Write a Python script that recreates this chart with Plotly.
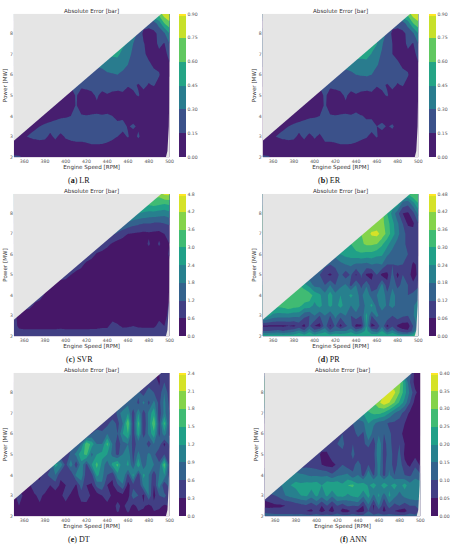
import plotly.graph_objects as go

# Engine speed columns [RPM] and power rows [MW]
rpm = [350,355,360,365,370,375,380,385,390,395,400,405,410,415,420,425,430,435,440,445,450,455,460,465,470,475,480,485,490,495,500]
power = [9,8.5,8,7.5,7,6.5,6,5.5,5,4.5,4,3.5,3,2.5,2.25,2]

# Rows run from top (9 MW) to bottom (2 MW); each row lists its right-hand columns, ending at 500 RPM
z_lr = [
[.68,.86,.88],
[.20,.22,.38,.60,.72],
[.40,.25,.12,.10,.12,.18,.28,.45],
[.50,.42,.30,.20,.16,.10,.10,.18,.14,.30],
[.48,.50,.38,.33,.28,.20,.17,.12,.10,.12,.10,.20],
[.32,.36,.36,.35,.33,.30,.27,.22,.18,.17,.13,.12,.08,.14],
[.18,.22,.25,.27,.28,.29,.30,.28,.25,.23,.22,.20,.19,.18,.16,.07,.10],
[.16,.17,.19,.20,.20,.21,.21,.22,.20,.19,.16,.17,.14,.18,.14,.16,.10,.06,.07],
[.10,.11,.16,.11,.10,.12,.17,.11,.14,.11,.11,.13,.10,.13,.16,.11,.09,.07,.06,.05,.05],
[.05,.06,.07,.08,.09,.16,.09,.08,.09,.13,.07,.13,.07,.08,.07,.07,.11,.07,.06,.06,.05,.05,.05,.05],
[.05,.06,.08,.10,.12,.13,.15,.155,.16,.155,.16,.155,.16,.155,.15,.14,.13,.10,.09,.08,.07,.06,.05,.05,.04,.04],
[.11,.13,.15,.18,.20,.22,.24,.24,.23,.24,.24,.25,.25,.24,.24,.22,.20,.16,.18,.14,.17,.13,.14,.10,.08,.07,.05,.04],
[.10,.12,.14,.16,.18,.19,.18,.12,.18,.11,.17,.19,.20,.20,.21,.21,.21,.20,.19,.17,.15,.12,.16,.10,.17,.09,.07,.06,.05,.04,.03],
[.08,.07,.07,.07,.07,.08,.08,.07,.08,.07,.08,.09,.10,.10,.11,.13,.13,.13,.12,.11,.09,.08,.07,.06,.05,.04,.04,.03,.03,.03,.03],
[.10,.09,.07,.06,.05,.05,.05,.05,.05,.05,.05,.05,.05,.05,.05,.05,.05,.05,.05,.05,.05,.04,.04,.04,.04,.04,.04,.03,.03,.03,.03],
[.18,.17,.13,.10,.08,.07,.07,.06,.06,.06,.06,.05,.05,.05,.05,.05,.05,.05,.05,.05,.05,.05,.05,.05,.05,.05,.05,.05,.05,.06,.08],
]
z_er = [
[.68,.86,.88],
[.20,.22,.38,.60,.72],
[.40,.25,.12,.10,.12,.18,.28,.45],
[.53,.46,.32,.20,.15,.09,.10,.18,.14,.30],
[.50,.53,.44,.36,.28,.19,.15,.12,.10,.12,.10,.20],
[.34,.40,.39,.38,.35,.31,.27,.21,.17,.17,.13,.12,.08,.14],
[.18,.22,.26,.28,.30,.31,.32,.30,.26,.23,.22,.20,.19,.18,.16,.07,.10],
[.16,.17,.19,.20,.20,.21,.21,.22,.20,.19,.16,.17,.14,.18,.14,.16,.10,.06,.07],
[.10,.11,.17,.11,.10,.12,.17,.11,.14,.11,.11,.13,.10,.13,.16,.11,.09,.07,.06,.05,.05],
[.05,.06,.07,.08,.09,.17,.09,.08,.09,.13,.07,.13,.07,.08,.07,.07,.11,.07,.06,.06,.05,.05,.05,.05],
[.05,.06,.08,.10,.12,.13,.15,.155,.16,.155,.16,.155,.16,.16,.155,.14,.13,.11,.09,.08,.07,.06,.05,.05,.04,.04],
[.11,.13,.15,.18,.20,.22,.24,.24,.23,.24,.24,.25,.25,.24,.24,.23,.21,.17,.19,.15,.18,.14,.17,.10,.08,.07,.05,.04],
[.10,.12,.14,.16,.18,.19,.18,.12,.18,.11,.17,.12,.20,.20,.21,.21,.21,.20,.19,.17,.16,.12,.16,.10,.14,.09,.07,.06,.05,.04,.03],
[.08,.07,.07,.07,.07,.08,.08,.07,.08,.07,.08,.09,.10,.10,.11,.13,.13,.13,.12,.11,.09,.08,.07,.06,.05,.04,.04,.03,.03,.03,.03],
[.10,.09,.07,.06,.05,.05,.05,.05,.05,.05,.05,.05,.05,.05,.05,.05,.05,.05,.05,.05,.05,.04,.04,.04,.04,.04,.04,.03,.03,.03,.03],
[.18,.17,.13,.10,.08,.07,.07,.06,.06,.06,.06,.05,.05,.05,.05,.05,.05,.05,.05,.05,.05,.05,.05,.05,.05,.05,.05,.05,.05,.06,.08],
]
z_svr = [
[3.9,4.5,4.5],
[3.2,3.3,3.2,3.1,3.2],
[2.6,2.4,2.3,2.2,2.2,2.1,2.0,2.2],
[1.8,1.6,1.4,1.3,1.2,1.2,1.1,1.1,1.2,1.3],
[1.3,1.1,.8,.6,.55,.50,.45,.50,.45,.40,.60,.70],
[1.2,.8,.5,.3,.3,.3,.3,.3,.3,.7,.3,.7,.3,.6],
[1.1,.9,.5,.3,.2,.2,.2,.2,.2,.2,.2,.2,.2,.2,.2,.3,.7],
[1.1,.8,.4,.2,.2,.2,.2,.2,.2,.2,.2,.2,.2,.2,.2,.2,.2,.2,.5],
[.9,.6,.3,.2,.2,.2,.2,.2,.2,.2,.2,.2,.2,.2,.2,.2,.2,.2,.2,.2,.4],
[.8,.4,.3,.2,.2,.2,.2,.2,.2,.2,.2,.2,.2,.2,.2,.2,.2,.2,.2,.2,.2,.2,.2,.4],
[.9,.5,.3,.2,.2,.2,.2,.2,.2,.2,.2,.2,.2,.2,.2,.2,.2,.2,.2,.2,.2,.2,.2,.2,.3,.5],
[.8,.5,.3,.2,.2,.2,.2,.2,.2,.2,.2,.2,.2,.2,.2,.2,.2,.2,.2,.2,.2,.2,.2,.2,.2,.2,.3,.7],
[.7,.5,.3,.2,.2,.2,.2,.2,.2,.2,.2,.2,.2,.2,.2,.2,.2,.2,.2,.2,.2,.2,.2,.2,.2,.2,.2,.2,.45,.4,.8],
[.8,.5,.4,.4,.4,.4,.4,.4,.4,.4,.4,.4,.4,.4,.4,.45,.45,.45,.45,.9,.7,.5,.5,.6,.5,.5,.5,.5,.75,.6,.9],
[.9,.7,.7,.7,.7,.7,.7,.7,.7,.75,.7,.7,.7,.7,.7,.7,.7,.8,.8,.9,.9,.8,.9,.9,.85,.8,.8,.8,.9,.9,1.0],
[.9,.9,.8,.8,.9,.9,.9,.9,.9,.9,.9,.9,.9,.9,.9,.9,.9,.9,.9,.9,.9,.9,.9,.9,.9,.9,.9,.9,1.0,1.0,1.1],
]
z_pr = [
[.32,.38,.36],
[.28,.16,.14,.22,.30],
[.38,.30,.22,.14,.06,.05,.10,.20],
[.38,.38,.38,.33,.26,.19,.12,.05,.05,.12],
[.36,.39,.43,.44,.40,.34,.27,.20,.14,.10,.08,.10],
[.30,.34,.35,.37,.37,.36,.31,.26,.20,.16,.13,.11,.09,.09],
[.20,.24,.26,.27,.28,.29,.28,.28,.26,.25,.19,.16,.15,.14,.12,.09,.07],
[.14,.12,.14,.16,.18,.19,.17,.17,.16,.18,.17,.18,.12,.12,.13,.12,.10,.05,.07],
[.14,.12,.07,.05,.08,.14,.08,.13,.05,.13,.05,.04,.12,.04,.04,.14,.04,.12,.08,.04,.07],
[.30,.26,.22,.16,.16,.12,.18,.12,.16,.19,.10,.18,.10,.17,.08,.08,.20,.08,.17,.10,.14,.12,.07,.11],
[.31,.34,.36,.36,.33,.28,.25,.20,.27,.20,.24,.20,.26,.20,.16,.24,.14,.18,.24,.14,.20,.16,.17,.12,.14,.15],
[.32,.33,.35,.33,.32,.28,.28,.22,.27,.20,.26,.21,.27,.20,.18,.22,.16,.19,.26,.15,.22,.17,.20,.16,.16,.18,.17,.22],
[.30,.26,.22,.21,.21,.21,.20,.20,.14,.12,.18,.12,.18,.12,.20,.14,.18,.12,.16,.12,.26,.12,.20,.14,.18,.12,.16,.13,.12,.17,.25],
[.05,.05,.05,.05,.05,.06,.05,.08,.04,.13,.06,.04,.15,.05,.13,.04,.11,.14,.04,.05,.24,.04,.07,.17,.04,.11,.05,.03,.03,.12,.20],
[.12,.12,.13,.14,.12,.14,.16,.20,.14,.22,.14,.18,.22,.14,.18,.18,.18,.22,.16,.20,.26,.18,.14,.24,.14,.20,.12,.08,.07,.14,.30],
[.28,.28,.28,.28,.28,.28,.28,.30,.28,.30,.28,.30,.30,.28,.30,.28,.30,.30,.28,.30,.30,.28,.30,.30,.28,.30,.28,.26,.26,.30,.32],
]
z_dt = [
[.3,.4,.5],
[.3,.6,.25,.6,.4],
[.4,.7,.4,.9,.6,.4,.9,.4],
[.4,.8,.9,.5,1.0,.5,1.0,.5,1.0,.5],
[.3,.7,1.1,1.2,.4,1.2,.4,1.0,1.4,.4,1.0,.6],
[.3,.5,.8,.5,.9,1.8,.4,1.6,.3,1.0,1.8,.5,1.6,.5],
[.3,.6,.8,.7,.9,.8,.6,1.2,1.5,.4,1.4,.4,1.0,1.4,.5,1.1,.5],
[.5,.9,1.75,1.4,.9,.9,1.6,.9,.4,.8,.9,.5,.7,.9,.4,.9,.8,.2,.7],
[.3,.7,1.0,1.4,1.6,.8,1.2,1.3,1.2,.8,.5,.9,1.1,.5,1.0,.6,1.0,.7,.3,.6,.5],
[.5,1.3,1.1,.5,1.1,.4,1.1,.5,1.2,1.6,1.1,.7,1.3,1.6,.9,1.3,.6,1.5,.6,1.2,.9,.7,1.7,.5],
[.25,.5,.7,.9,.35,.5,.3,1.0,1.1,.4,.5,1.3,1.0,.6,.35,1.1,1.2,.5,1.3,.4,1.3,.9,.4,.9,1.2,.4],
[.25,.55,.35,.6,.3,.45,.25,.3,.6,.25,.75,.3,.25,.7,.85,.3,.25,.55,.85,.2,.5,.3,1.0,.9,.3,1.1,.3,.8],
[.25,.4,.25,.3,.25,.4,.2,.3,.15,.2,.5,.2,.15,.45,.55,.2,.15,.3,.55,.2,.15,.2,.15,.8,.6,.2,.9,.2,.6,.7,.4],
[.2,.3,.2,.25,.2,.25,.2,.2,.15,.2,.15,.2,.15,.2,.15,.2,.15,.2,.15,.15,.4,.2,.5,.2,.4,.35,.2,.4,.4,.25,.3],
[.2,.2,.15,.2,.15,.15,.15,.15,.15,.15,.15,.15,.15,.15,.15,.15,.15,.1,.1,.1,.35,.15,.35,.15,.3,.25,.15,.3,.25,.2,.2],
[.15,.15,.15,.15,.15,.15,.15,.15,.15,.15,.15,.15,.15,.15,.15,.15,.15,.1,.1,.1,.15,.15,.2,.15,.2,.15,.15,.2,.2,.2,.2],
]
z_ann = [
[.12,.03,.03],
[.32,.22,.10,.03,.03],
[.34,.38,.36,.30,.22,.14,.06,.03],
[.30,.34,.38,.35,.30,.24,.18,.10,.03,.03],
[.20,.24,.26,.26,.24,.20,.15,.12,.08,.04,.03,.03],
[.10,.12,.14,.20,.16,.13,.12,.09,.09,.08,.05,.02,.02,.02],
[.08,.10,.10,.07,.12,.09,.20,.12,.14,.10,.11,.08,.06,.04,.02,.02,.02],
[.08,.09,.10,.11,.08,.10,.06,.09,.12,.06,.20,.08,.13,.06,.10,.05,.03,.03,.03],
[.07,.04,.04,.09,.08,.09,.05,.12,.06,.10,.06,.08,.20,.07,.13,.08,.11,.04,.03,.03,.03],
[.07,.08,.08,.07,.05,.03,.03,.06,.10,.07,.08,.13,.07,.10,.07,.18,.08,.14,.07,.13,.06,.04,.09,.04],
[.16,.18,.16,.15,.14,.14,.14,.14,.11,.14,.15,.16,.11,.15,.08,.19,.09,.17,.08,.16,.10,.13,.10,.09,.13,.11],
[.14,.18,.20,.21,.21,.22,.22,.23,.20,.24,.24,.24,.21,.25,.26,.21,.24,.19,.23,.17,.24,.19,.22,.18,.22,.17,.19,.18],
[.07,.09,.10,.12,.15,.17,.18,.20,.21,.17,.21,.17,.21,.16,.21,.22,.19,.21,.22,.16,.22,.14,.21,.12,.21,.17,.13,.17,.18,.19,.17],
[.03,.03,.04,.04,.05,.05,.07,.08,.09,.07,.10,.05,.10,.05,.10,.07,.11,.10,.11,.05,.14,.04,.15,.05,.13,.08,.10,.07,.10,.10,.12],
[.09,.08,.07,.07,.07,.07,.06,.07,.05,.04,.07,.03,.06,.03,.08,.03,.03,.07,.03,.04,.10,.05,.08,.04,.07,.05,.03,.03,.08,.05,.10],
[.12,.12,.12,.12,.12,.12,.12,.12,.12,.12,.12,.12,.12,.12,.12,.12,.12,.12,.12,.12,.12,.12,.12,.12,.12,.12,.12,.12,.12,.12,.14],
]

# Region of the map that has no operating data
mask_rpm = [350, 350, 497.8, 350]
mask_mw = [2.8, 9.2, 9.2, 2.8]
corner_rpm = [501, 496.5, 498, 499.3, 500, 501]
corner_mw = [2, 2, 2.3, 3.5, 5.9, 5.9]

panel_names = ["LR", "ER", "SVR", "PR", "DT", "ANN"]
panel_letters = ["a", "b", "c", "d", "e", "f"]
panel_data = [z_lr, z_er, z_svr, z_pr, z_dt, z_ann]
level_steps = [.15, .15, .6, .06, .3, .05]
level_tops = [.9, .9, 4.8, .48, 2.4, .4]
tick_formats = [".2f", ".2f", ".1f", ".2f", ".1f", ".2f"]

W, H = 461, 550
# plot boxes: left, right, top, bottom; colourbar left; caption centre x, y (all in pixels)
boxes = [(14,171,14,158,181,80,181),(265,422,14,158,433,332,181),
         (14,171,195,338,181,80,361),(265,422,195,338,433,332,361),
         (14,171,375,519,181,80,542),(267,424,375,519,435,357,542)]

BG = "#e5e5e5"
INK = "#333333"
SANS = "DejaVu Sans"
fig = go.Figure()
annotations = []
layout = {}
for i, (name, letter, rows, step, top, fmt, box) in enumerate(zip(panel_names, panel_letters, panel_data, level_steps, level_tops, tick_formats, boxes)):
    l, r, t, b, cb, cx, cy = box
    n = "" if i == 0 else str(i + 1)
    # cells left of each row's first value lie under the mask: carry that value across them
    z = [[row[0]] * (len(rpm) - len(row)) + row for row in rows]
    fig.add_trace(go.Contour(
        x=rpm, y=power, z=z, xaxis="x" + n, yaxis="y" + n,
        zmin=0, zmax=top, colorscale="Viridis", autocontour=False,
        contours=dict(start=0, end=top, size=step, coloring="fill", showlines=False),
        line=dict(width=0, smoothing=0), hoverinfo="skip",
        colorbar=dict(x=cb / W, xanchor="left", y=1 - (t + b) / 2 / H, yanchor="middle",
                      len=(b - t) / H, lenmode="fraction", thickness=7, thicknessmode="pixels",
                      xpad=0, ypad=0, outlinewidth=0, ticks="", ticklen=0, tick0=0, dtick=step,
                      tickformat=fmt, tickfont=dict(size=4.6, color="#555555", family=SANS)),
    ))
    for px, py in ((mask_rpm, mask_mw), (corner_rpm, corner_mw)):
        fig.add_trace(go.Scatter(x=px, y=py, xaxis="x" + n, yaxis="y" + n, mode="lines",
                                 fill="toself", fillcolor=BG, line=dict(width=0, color=BG),
                                 hoverinfo="skip", showlegend=False))
    layout["xaxis" + n] = dict(domain=[l / W, r / W], range=[350, 500], anchor="y" + n, tick0=360, dtick=20,
                               showgrid=False, zeroline=False, showline=False, ticks="",
                               tickfont=dict(size=4.6, color="#555555", family=SANS), ticklabelstandoff=0,
                               title=dict(text="Engine Speed [RPM]", standoff=1, font=dict(size=5.6, color=INK, family=SANS)))
    layout["yaxis" + n] = dict(domain=[1 - b / H, 1 - t / H], range=[2, 8.95], anchor="x" + n, tick0=2, dtick=1,
                               showgrid=False, zeroline=False, showline=False, ticks="",
                               tickfont=dict(size=4.6, color="#555555", family=SANS),
                               title=dict(text="Power [MW]", standoff=1, font=dict(size=5.6, color=INK, family=SANS)))
    annotations.append(dict(text="Absolute Error [bar]", x=(l + r) / 2 / W, y=1 - (t - 3) / H, xref="paper", yref="paper",
                            xanchor="center", yanchor="middle", showarrow=False,
                            font=dict(size=5.6, color=INK, family=SANS)))
    annotations.append(dict(text=f"(<b>{letter}</b>) {name}", x=cx / W, y=1 - cy / H, xref="paper", yref="paper",
                            xanchor="center", yanchor="middle", showarrow=False,
                            font=dict(size=8, color="#111111", family="Liberation Serif")))

fig.update_layout(width=W, height=H, margin=dict(l=0, r=0, t=0, b=0), paper_bgcolor="white",
                  plot_bgcolor=BG, showlegend=False, annotations=annotations, **layout)
fig.write_html("out.html", config={"displayModeBar": False},
               post_script="document.body.style.margin='0';document.body.style.overflow='hidden';")
